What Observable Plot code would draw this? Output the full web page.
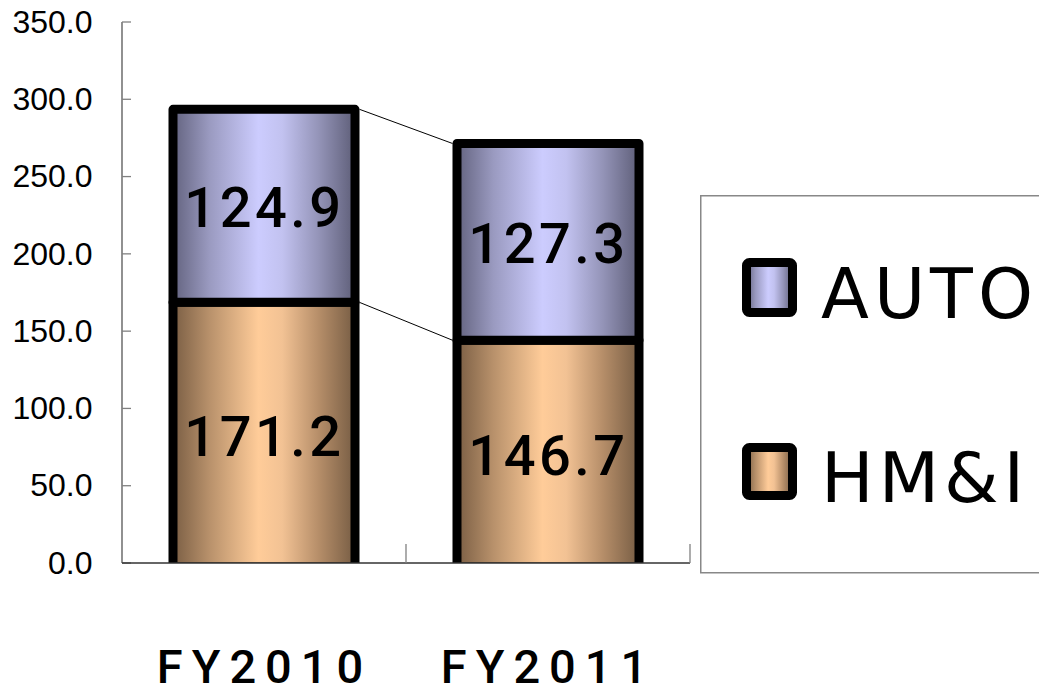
<!DOCTYPE html>
<html>
<head>
<meta charset="utf-8">
<script src="https://cdn.jsdelivr.net/npm/d3@7"></script>
<script src="https://cdn.jsdelivr.net/npm/@observablehq/plot@0.6"></script>
<style>
  body { margin: 0; background: #fff; width: 1039px; height: 693px; overflow: hidden; position: relative; }
  .chart [aria-label^="y-axis"] text { font-size: 32px; font-family: "Liberation Sans", Arial, sans-serif; fill: #000; }
  .chart [aria-label^="x-axis"] text { font-size: 47px; font-family: Roboto, sans-serif; font-weight: 500; letter-spacing: 9px; fill: #000; }
  .chart [aria-label="text"] text { letter-spacing: 3.5px; }
  #legend { position: absolute; left: 700px; top: 195px; }
</style>
</head>
<body>
<div id="chart"></div>
<svg id="legend" width="339" height="380"></svg>
<script>
// Fiscal years and sales by segment
const years = ["FY2010", "FY2011"];
const hmiValues = [171.2, 146.7];
const autoValues = [124.9, 127.3];

// Series, stacked bottom to top, with their cylinder-style gradient shades
const seriesNames = ["HM&I", "AUTO"];
const seriesIds = ["gradHmi", "gradAuto"];
const hmiShades = ["#7a5e44", "#b8916b", "#ffcc99", "#f2c294", "#b68e69", "#775d44"];
const autoShades = ["#63637f", "#9a9ac0", "#ccccfe", "#c2c2f0", "#9494b8", "#5e5e78"];
const shadeOffsets = [0, 0.2, 0.47, 0.6, 0.8, 1];

const rows = [];
years.forEach((year, i) => {
  rows.push({year, series: seriesNames[0], value: hmiValues[i]});
  rows.push({year, series: seriesNames[1], value: autoValues[i]});
});
const gradOf = Object.fromEntries(seriesNames.map((s, i) => [s, `url(#${seriesIds[i]})`]));

const barStroke = 9;
const barShift = 4;

function addGradient(defs, id, shades) {
  const lg = defs.append("linearGradient").attr("id", id)
    .attr("x1", "0").attr("x2", "1").attr("y1", "0").attr("y2", "0");
  shades.forEach((c, i) => lg.append("stop").attr("offset", shadeOffsets[i]).attr("stop-color", c));
}

// Gradient definitions used by the bars
function gradients() {
  const defs = d3.create("svg:defs");
  addGradient(defs, seriesIds[0], hmiShades);
  addGradient(defs, seriesIds[1], autoShades);
  return defs.node();
}

// Axis lines, inward ticks, category separators and the segment connector lines
function guides(index, scales, values, dims) {
  const sx = scales.x, sy = scales.y;
  const bw = typeof sx.bandwidth === "function" ? sx.bandwidth() : sx.bandwidth;
  const left = dims.marginLeft;
  const right = dims.width - dims.marginRight;
  const top = dims.marginTop;
  const bottom = dims.height - dims.marginBottom;
  const g = d3.create("svg:g").attr("fill", "none");

  // value axis line and ticks pointing into the plot
  g.append("line").attr("x1", left).attr("x2", left).attr("y1", top).attr("y2", bottom)
    .attr("stroke", "#555").attr("stroke-width", 1.3);
  sy.ticks(7).forEach(t => {
    g.append("line").attr("x1", left).attr("x2", left + 9).attr("y1", sy(t)).attr("y2", sy(t))
      .attr("stroke", "#808080").attr("stroke-width", 1.3);
  });

  // category axis line and separators between categories
  g.append("line").attr("x1", left).attr("x2", right).attr("y1", bottom).attr("y2", bottom)
    .attr("stroke", "#333").attr("stroke-width", 1.3);
  years.forEach((y, i) => {
    const xs = i < years.length - 1 ? (sx(y) + bw + sx(years[i + 1])) / 2 : right;
    g.append("line").attr("x1", xs).attr("x2", xs).attr("y1", bottom - 19).attr("y2", bottom)
      .attr("stroke", "#808080").attr("stroke-width", 1.3);
  });

  // connectors between matching segment tops of the two bars
  const levels = [hmiValues, hmiValues.map((v, i) => v + autoValues[i])];
  levels.forEach(level => {
    g.append("line")
      .attr("x1", sx(years[0]) + bw + barStroke / 2).attr("y1", sy(level[0]) + barShift)
      .attr("x2", sx(years[1]) - barStroke / 2).attr("y2", sy(level[1]) + barShift)
      .attr("stroke", "#000").attr("stroke-width", 1);
  });
  return g.node();
}

const chart = Plot.plot({
  className: "chart",
  width: 1039,
  height: 693,
  marginLeft: 122,
  marginRight: 349,
  marginTop: 22,
  marginBottom: 130,
  style: {background: "#fff", fontFamily: "Liberation Sans, Arial, sans-serif", overflow: "visible"},
  x: {domain: years, paddingInner: 0.36, paddingOuter: 0.18, tickSize: 0, tickPadding: 86, label: null},
  y: {domain: [0, 350], ticks: 7, tickFormat: ".1f", tickSize: 0, tickPadding: 30, label: null},
  color: {type: "identity"},
  marks: [
    gradients,
    Plot.barY(rows, {
      x: "year", y: "value", z: "series",
      fill: d => gradOf[d.series],
      stroke: "#000", strokeWidth: barStroke, strokeLinejoin: "round",
      dy: barShift, clip: true
    }),
    guides,
    Plot.text(rows, Plot.stackY({
      x: "year", y: "value", z: "series",
      text: d => d.value.toFixed(1),
      fontSize: 56, fontFamily: "Roboto, sans-serif", fontWeight: 500,
      fill: "#000", dy: 7, dx: 0
    }))
  ]
});
document.getElementById("chart").appendChild(chart);

// Legend box, partly cut off by the right edge
const legend = d3.select("#legend");
const ldefs = legend.append("defs");
addGradient(ldefs, "legHmi", hmiShades);
addGradient(ldefs, "legAuto", autoShades);
legend.append("rect").attr("x", 0.75).attr("y", 0.75).attr("width", 420).attr("height", 377)
  .attr("fill", "#fff").attr("stroke", "#888").attr("stroke-width", 1.5);
const legendItems = [
  {name: seriesNames[1], grad: "legAuto", top: 63, h: 59, base: 123},
  {name: seriesNames[0], grad: "legHmi", top: 248, h: 57, base: 307}
];
legendItems.forEach(it => {
  legend.append("rect")
    .attr("x", 42 + barStroke / 2).attr("y", it.top + barStroke / 2)
    .attr("width", 55 - barStroke).attr("height", it.h - barStroke)
    .attr("rx", 3).attr("fill", `url(#${it.grad})`)
    .attr("stroke", "#000").attr("stroke-width", barStroke).attr("stroke-linejoin", "round");
  legend.append("text").attr("x", 121).attr("y", it.base)
    .attr("font-family", "DejaVu Sans, sans-serif").attr("font-size", 70)
    .attr("letter-spacing", 5)
    .attr("fill", "#000").text(it.name);
});
</script>
</body>
</html>
